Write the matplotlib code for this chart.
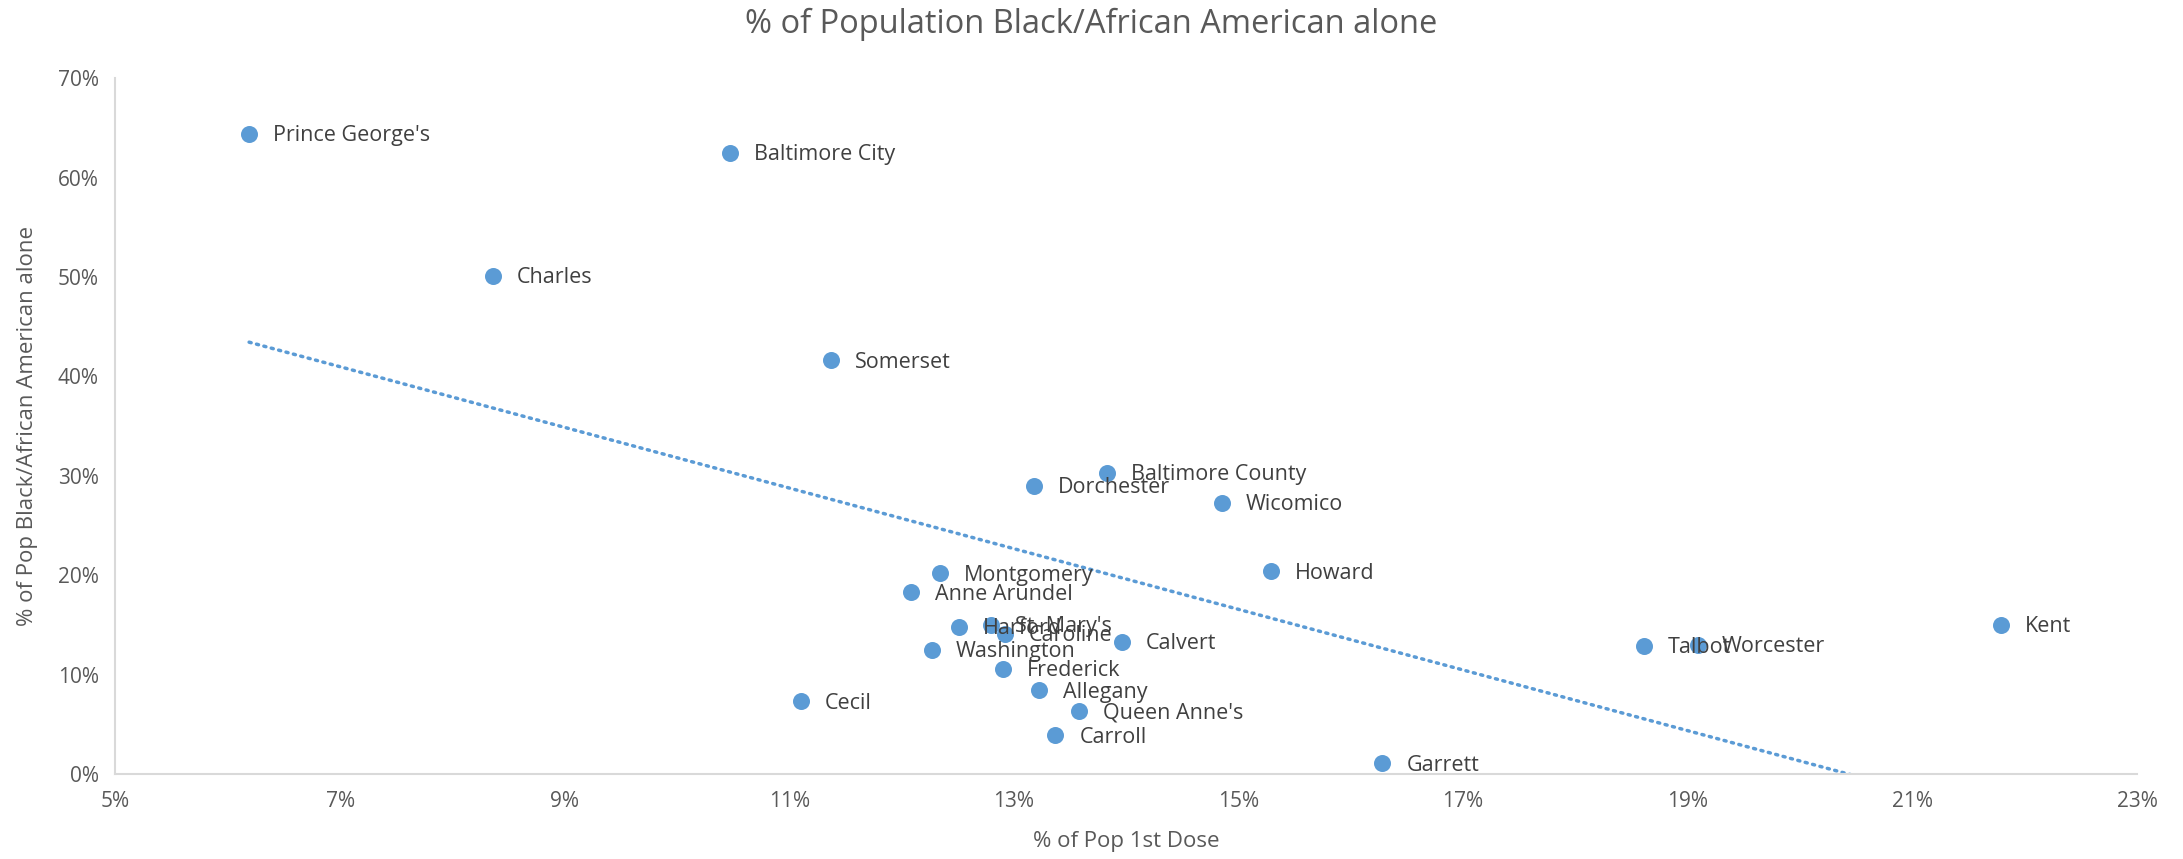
import numpy as np
import matplotlib
matplotlib.use("Agg")
import matplotlib.pyplot as plt
from matplotlib.ticker import FuncFormatter

plt.rcParams['font.family'] = ['Open Sans', 'DejaVu Sans']

# county data (fractions)
counties = ["Prince George's", "Baltimore City", "Charles", "Somerset",
            "Baltimore County", "Dorchester", "Wicomico", "Howard",
            "Montgomery", "Anne Arundel", "Harford", "St. Mary's", "Caroline",
            "Calvert", "Washington", "Frederick", "Allegany", "Queen Anne's",
            "Carroll", "Cecil", "Garrett", "Talbot", "Worcester", "Kent"]
first_dose = [0.0619, 0.1047, 0.0836, 0.1137,
              0.1383, 0.1318, 0.1485, 0.1529,
              0.1234, 0.1208, 0.1251, 0.1280, 0.1292,
              0.1396, 0.1227, 0.1290, 0.1322, 0.1358,
              0.1337, 0.1110, 0.1628, 0.1861, 0.1909, 0.2179]
black_pct = [0.644, 0.625, 0.501, 0.416,
             0.303, 0.290, 0.273, 0.204,
             0.202, 0.183, 0.148, 0.150, 0.141,
             0.133, 0.125, 0.106, 0.084, 0.063,
             0.039, 0.073, 0.011, 0.129, 0.130, 0.150]

blue = "#5B9BD5"
grey_text = "#595959"
axis_grey = "#D9D9D9"

x = np.array(first_dose)
y = np.array(black_pct)

fig = plt.figure(figsize=(21.83, 8.59), dpi=100)
ax = fig.add_axes([0.0529, 0.099, 0.926, 0.81])

ax.scatter(x, y, s=150, color=blue, zorder=3, linewidths=0)

for name, xi, yi in zip(counties, x, y):
    ax.annotate(name, (xi, yi), xytext=(24, -2), textcoords="offset pixels",
                va="center", ha="left", fontsize=15.5, color="#404040")

# linear trendline
slope, intercept = np.polyfit(x, y, 1)
xt = np.linspace(x.min(), x.max(), 200)
ax.plot(xt, slope * xt + intercept, color=blue, lw=2.5, ls=(0, (0.6, 1.6)),
        dash_capstyle="round", zorder=2)

ax.set_xlim(0.05, 0.23)
ax.set_ylim(0, 0.70)
ax.set_xticks(np.arange(0.05, 0.231, 0.02))
ax.set_yticks(np.arange(0, 0.701, 0.10))
ax.xaxis.set_major_formatter(FuncFormatter(lambda v, p: f"{v*100:.0f}%"))
ax.yaxis.set_major_formatter(FuncFormatter(lambda v, p: f"{v*100:.0f}%"))
ax.tick_params(length=0, labelsize=15, labelcolor=grey_text, pad=12)

for side in ["top", "right"]:
    ax.spines[side].set_visible(False)
for side in ["left", "bottom"]:
    ax.spines[side].set_color(axis_grey)
    ax.spines[side].set_linewidth(1.5)

ax.set_xlabel("% of Pop 1st Dose", fontsize=16, color=grey_text, labelpad=14)
ax.set_ylabel("% of Pop Black/African American alone", fontsize=16,
              color=grey_text, labelpad=14)
fig.suptitle("% of Population Black/African American alone", fontsize=23.5,
             color=grey_text, y=0.972, va="center")

fig.savefig("out.png", dpi=100)
